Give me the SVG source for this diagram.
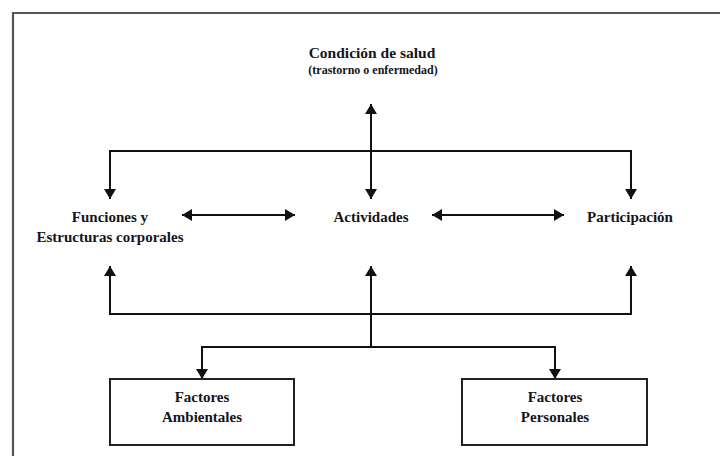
<svg xmlns="http://www.w3.org/2000/svg" width="720" height="456" viewBox="0 0 720 456">
<style>
  .t { font-family: "Liberation Serif", "Times New Roman", serif; font-weight: bold; fill: #141420; text-anchor: middle; }
  .l { font-size: 15px; }
  .h { font-size: 15.5px; }
  .s { font-size: 12px; }
  .c { fill: none; stroke: #111; stroke-width: 2; }
  .box { fill: #fff; stroke: #222; stroke-width: 2; }
  .frame { fill: none; stroke: #555; stroke-width: 2.2; }
</style>
<defs>
  <marker id="ah" viewBox="0 0 10 12" refX="10" refY="6" markerWidth="10" markerHeight="12" markerUnits="userSpaceOnUse" orient="auto-start-reverse">
    <path d="M0,0 L10,6 L0,12 Z" fill="#111"/>
  </marker>
</defs>
<rect width="720" height="456" fill="#fff"/>
<path class="frame" d="M13,456 V13 H720"/>
<g id="connectors">
  <path class="c" d="M371,104 V199" marker-start="url(#ah)" marker-end="url(#ah)"/>
  <path class="c" d="M110,199 V151 H631 V199" marker-start="url(#ah)" marker-end="url(#ah)"/>
  <path class="c" d="M182,215 H295" marker-start="url(#ah)" marker-end="url(#ah)"/>
  <path class="c" d="M432,215 H564" marker-start="url(#ah)" marker-end="url(#ah)"/>
  <path class="c" d="M110,266 V314 H631 V266" marker-start="url(#ah)" marker-end="url(#ah)"/>
  <path class="c" d="M371,347 V266" marker-end="url(#ah)"/>
  <path class="c" d="M202,379 V347 H555 V379" marker-start="url(#ah)" marker-end="url(#ah)"/>
</g>
<g id="condicion">
  <text class="t h" x="372" y="58">Condición de salud</text>
  <text class="t s" x="373" y="74">(trastorno o enfermedad)</text>
</g>
<g id="funciones">
  <text class="t l" x="110" y="222">Funciones y</text>
  <text class="t l" x="110" y="242">Estructuras corporales</text>
</g>
<g id="actividades">
  <text class="t l" x="371" y="222">Actividades</text>
</g>
<g id="participacion">
  <text class="t l" x="630" y="222">Participación</text>
</g>
<g id="ambientales">
  <rect class="box" x="110" y="379" width="184" height="66"/>
  <text class="t l" x="202" y="402">Factores</text>
  <text class="t l" x="202" y="422">Ambientales</text>
</g>
<g id="personales">
  <rect class="box" x="462" y="379" width="185" height="66"/>
  <text class="t l" x="555" y="402">Factores</text>
  <text class="t l" x="555" y="422">Personales</text>
</g>
</svg>
